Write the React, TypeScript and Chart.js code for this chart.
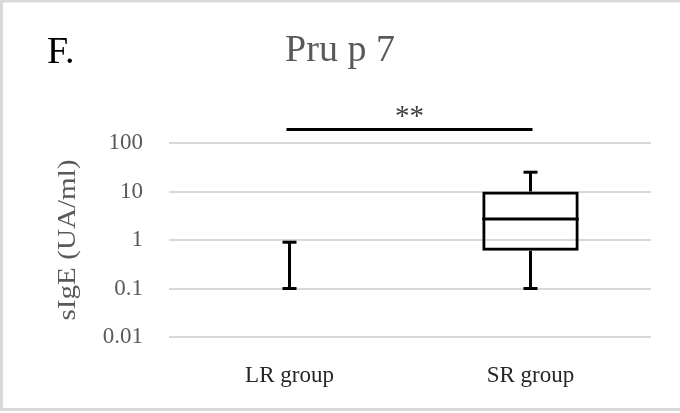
import React, { useEffect, useRef } from "react";
import { Chart, registerables } from "chart.js";

Chart.register(...registerables);

// ---- Data ----
const categories = ["LR group", "SR group"];
const whiskerMin = [0.1, 0.1];
const q1 = [0.1, 0.6];
const median = [0.1, 2.7];
const q3 = [0.1, 10];
const whiskerMax = [0.9, 25];
const yTicks = [0.01, 0.1, 1, 10, 100];
const yTickLabels = ["0.01", "0.1", "1", "10", "100"];
const sigLevel = 190;
const sigText = "**";
const panelLabel = "F.";
const titleText = "Pru p 7";
const yTitle = "sIgE (UA/ml)";

const SERIF = "'Liberation Serif', 'Times New Roman', serif";
const BOX_FRACTION = 0.4;

const boxPlugin = {
  id: "boxExtras",
  beforeDraw(chart: any) {
    const ctx = chart.ctx;
    ctx.save();
    ctx.fillStyle = "#ffffff";
    ctx.fillRect(0, 0, chart.width, chart.height);
    ctx.strokeStyle = "#d9d9d9";
    ctx.lineWidth = 3;
    ctx.strokeRect(1.5, 1, chart.width + 10, 408.5);
    ctx.restore();
  },
  afterDatasetsDraw(chart: any) {
    const { ctx } = chart;
    const x = chart.scales.x;
    const y = chart.scales.y;
    const catW = x.getPixelForValue(1) - x.getPixelForValue(0);
    const boxW = catW * BOX_FRACTION;
    const capW = 14;
    ctx.save();
    ctx.strokeStyle = "#000000";
    ctx.lineWidth = 3;
    ctx.lineCap = "butt";
    const line = (x1: number, y1: number, x2: number, y2: number) => {
      ctx.beginPath();
      ctx.moveTo(x1, y1);
      ctx.lineTo(x2, y2);
      ctx.stroke();
    };
    categories.forEach((_, i) => {
      const cx = x.getPixelForValue(i);
      const pMin = y.getPixelForValue(whiskerMin[i]);
      const pQ1 = y.getPixelForValue(q1[i]);
      const pMed = y.getPixelForValue(median[i]);
      const pQ3 = y.getPixelForValue(q3[i]);
      const pMax = y.getPixelForValue(whiskerMax[i]);
      line(cx, pMin, cx, pQ1);
      line(cx, pQ3, cx, pMax);
      line(cx - capW / 2, pMin, cx + capW / 2, pMin);
      line(cx - capW / 2, pMax, cx + capW / 2, pMax);
      if (q3[i] > q1[i]) {
        line(cx - boxW / 2, pMed, cx + boxW / 2, pMed);
      }
    });
    // significance bar
    const sy = y.getPixelForValue(sigLevel);
    const sx1 = x.getPixelForValue(0) - 3;
    const sx2 = x.getPixelForValue(1) + 2;
    line(sx1, sy, sx2, sy);
    ctx.fillStyle = "#404040";
    ctx.font = `29px ${SERIF}`;
    ctx.textAlign = "center";
    ctx.textBaseline = "alphabetic";
    ctx.fillText(sigText, (sx1 + sx2) / 2, sy - 4);
    ctx.restore();
  },
  afterDraw(chart: any) {
    const { ctx, chartArea } = chart;
    ctx.save();
    ctx.textBaseline = "alphabetic";
    ctx.fillStyle = "#595959";
    ctx.font = `38px ${SERIF}`;
    ctx.textAlign = "center";
    ctx.fillText(titleText, chart.width / 2, 61);
    ctx.fillStyle = "#000000";
    ctx.textAlign = "left";
    ctx.fillText(panelLabel, 47, 63);
    ctx.translate(68, (chartArea.top + chartArea.bottom) / 2);
    ctx.rotate(-Math.PI / 2);
    ctx.scale(1.12, 1);
    ctx.fillStyle = "#595959";
    ctx.font = `26px ${SERIF}`;
    ctx.textAlign = "center";
    ctx.textBaseline = "middle";
    ctx.fillText(yTitle, 0, 0);
    ctx.restore();
  },
};

export default function App() {
  const ref = useRef<HTMLCanvasElement>(null);
  useEffect(() => {
    document.body.style.margin = "0";
    if (!ref.current) return;
    const boxData = q1.map((v, i) => (q3[i] > v ? [v, q3[i]] : null));
    const chart = new Chart(ref.current, {
      type: "bar",
      data: {
        labels: categories,
        datasets: [
          {
            data: boxData as any,
            backgroundColor: "rgba(255,255,255,0)",
            borderColor: "#000000",
            borderWidth: 3,
            borderSkipped: false,
            barPercentage: BOX_FRACTION,
            categoryPercentage: 1,
          },
        ],
      },
      options: {
        responsive: false,
        animation: false,
        devicePixelRatio: 1,
        layout: { padding: { top: 143, right: 29, left: 0, bottom: 0 } },
        plugins: {
          legend: { display: false },
          title: { display: false },
          tooltip: { enabled: false },
        },
        scales: {
          x: {
            grid: { display: false },
            border: { display: false },
            ticks: {
              color: "#262626",
              font: { family: SERIF, size: 23 },
              padding: 17,
            },
            afterFit: (s: any) => {
              s.height = 76;
            },
          },
          y: {
            type: "logarithmic",
            min: 0.01,
            max: 100,
            grid: { color: "#d9d9d9", lineWidth: 2, drawTicks: false },
            border: { display: false },
            afterBuildTicks: (s: any) => {
              s.ticks = yTicks.map((v) => ({ value: v }));
            },
            ticks: {
              color: "#595959",
              font: { family: SERIF, size: 23 },
              padding: 26,
              callback: (v: any) => yTickLabels[yTicks.indexOf(Number(v))],
            },
            afterFit: (s: any) => {
              s.width = 169;
            },
          },
        },
      },
      plugins: [boxPlugin],
    });
    return () => chart.destroy();
  }, []);
  return <canvas ref={ref} width={680} height={413} style={{ display: "block" }} />;
}
